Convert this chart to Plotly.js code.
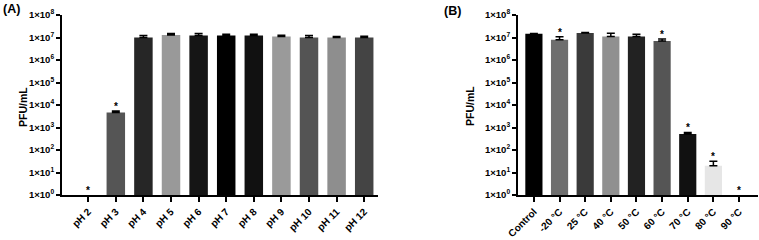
<!DOCTYPE html>
<html>
<head>
<meta charset="utf-8">
<script src="https://cdn.plot.ly/plotly-3.0.1.min.js"></script>
<style>
  html, body { margin: 0; padding: 0; background: #fff; }
  #chart { width: 759px; height: 240px; }
</style>
</head>
<body>
<div id="chart"></div>
<script>
// Panel A: phage stability across pH
const phLabels = ["pH 2", "pH 3", "pH 4", "pH 5", "pH 6", "pH 7", "pH 8", "pH 9", "pH 10", "pH 11", "pH 12"];
const phTiter = [null, 4600, 1.0e7, 1.3e7, 1.23e7, 1.23e7, 1.23e7, 1.1e7, 1.0e7, 1.0e7, 1.0e7];
const phError = [0, 800, 2.3e6, 2.0e6, 2.7e6, 1.7e6, 1.7e6, 1.7e6, 2.3e6, 1.0e6, 1.4e6];
const phColors = ["#ffffff", "#555555", "#262626", "#999999", "#151515", "#000000", "#111111", "#9a9a9a", "#545454", "#8e8e8e", "#444444"];
const phSignificant = ["pH 2", "pH 3"];

// Panel B: phage stability across temperature
const tempLabels = ["Control", "-20 °C", "25 °C", "40 °C", "50 °C", "60 °C", "70 °C", "80 °C", "90 °C"];
const tempTiter = [1.45e7, 7.9e6, 1.6e7, 1.1e7, 1.1e7, 7.0e6, 520, 20, null];
const tempError = [6e5, 3.0e6, 5e5, 4.5e6, 3.0e6, 1.5e6, 80, 12, 0];
const tempColors = ["#000000", "#6e6e6e", "#3a3a3a", "#909090", "#222222", "#555555", "#111111", "#e6e6e6", "#ffffff"];
const tempSignificant = ["-20 °C", "60 °C", "70 °C", "80 °C", "90 °C"];

// Log-scale y ticks 1×10^0 … 1×10^8
const yTickVals = [1, 10, 100, 1e3, 1e4, 1e5, 1e6, 1e7, 1e8];
const yTickText = yTickVals.map((v, i) => "1×10<sup>" + i + "</sup>");

const FONT = "Liberation Sans, Arial, sans-serif";
const W = 759, H = 240;

function barTrace(x, y, err, colors, xa, ya) {
  return {
    type: "bar", x: x, y: y, xaxis: xa, yaxis: ya,
    marker: { color: colors, line: { width: 0 } },
    error_y: { type: "data", symmetric: false, array: err, arrayminus: err.map(() => 0),
               color: "#000", thickness: 1.5, width: 4 },
    hoverinfo: "skip", showlegend: false
  };
}

function yAxis(xa) {
  return {
    type: "log", range: [0, 8], anchor: xa,
    domain: [45 / H, 225 / H],
    tickvals: yTickVals, ticktext: yTickText,
    tickfont: { family: FONT, size: 9.5, color: "#000", weight: "bold" },
    showline: true, linecolor: "#000", linewidth: 2,
    ticks: "outside", ticklen: 4, tickwidth: 2, tickcolor: "#000",
    showgrid: false, zeroline: false
  };
}

function xAxis(ya, domain, range) {
  return {
    type: "category", anchor: ya, domain: domain, range: range,
    tickangle: -45,
    tickfont: { family: FONT, size: 10, color: "#000", weight: "bold" },
    showline: true, linecolor: "#000", linewidth: 2,
    ticks: "outside", ticklen: 5, tickwidth: 2, tickcolor: "#000",
    showgrid: false, zeroline: false
  };
}

// Asterisks sit on top of the error bar (or on the baseline when there is no bar)
function stars(labels, titer, err, sig, xa, ya) {
  return sig.map(lbl => {
    const i = labels.indexOf(lbl);
    const top = titer[i] == null ? 1 : titer[i] + err[i];
    return {
      x: lbl, y: Math.log10(top), xref: xa, yref: ya,
      text: "*", showarrow: false, yanchor: "bottom", yshift: -3,
      font: { family: FONT, size: 10, color: "#000", weight: "bold" }
    };
  });
}

const annotations = [
  { text: "(A)", x: 11 / W, y: 1 - 9 / H, xref: "paper", yref: "paper", showarrow: false,
    xanchor: "center", yanchor: "middle", font: { family: FONT, size: 12.5, color: "#000", weight: "bold" } },
  { text: "(B)", x: 452 / W, y: 1 - 11 / H, xref: "paper", yref: "paper", showarrow: false,
    xanchor: "center", yanchor: "middle", font: { family: FONT, size: 12.5, color: "#000", weight: "bold" } },
  { text: "PFU/mL", x: 23 / W, y: 1 - 107 / H, xref: "paper", yref: "paper", showarrow: false,
    textangle: -90, xanchor: "center", yanchor: "middle",
    font: { family: FONT, size: 10.5, color: "#000", weight: "bold" } },
  { text: "PFU/mL", x: 470 / W, y: 1 - 106 / H, xref: "paper", yref: "paper", showarrow: false,
    textangle: -90, xanchor: "center", yanchor: "middle",
    font: { family: FONT, size: 10.5, color: "#000", weight: "bold" } }
].concat(
  stars(phLabels, phTiter, phError, phSignificant, "x", "y"),
  stars(tempLabels, tempTiter, tempError, tempSignificant, "x2", "y2")
);

const layout = {
  width: W, height: H,
  margin: { l: 0, r: 0, t: 0, b: 0 },
  paper_bgcolor: "#fff", plot_bgcolor: "#fff",
  bargap: 0.33,
  xaxis: xAxis("y", [62 / W, 378 / W], [-0.95, 10.5]),
  yaxis: yAxis("x"),
  xaxis2: xAxis("y2", [518 / W, 758 / W], [-0.62, 8.74]),
  yaxis2: yAxis("x2"),
  annotations: annotations
};

Plotly.newPlot("chart", [
  barTrace(phLabels, phTiter, phError, phColors, "x", "y"),
  barTrace(tempLabels, tempTiter, tempError, tempColors, "x2", "y2")
], layout, { staticPlot: true, displayModeBar: false });
</script>
</body>
</html>
